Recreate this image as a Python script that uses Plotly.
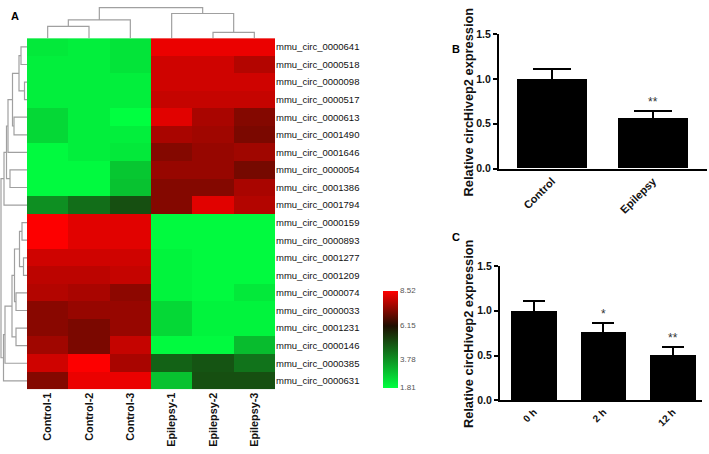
import plotly.graph_objects as go

# ---------------- data ----------------
samples = ["Control-1", "Control-2", "Control-3", "Epilepsy-1", "Epilepsy-2", "Epilepsy-3"]
circ_labels = ["mmu_circ_0000641", "mmu_circ_0000518", "mmu_circ_0000098", "mmu_circ_0000517",
               "mmu_circ_0000613", "mmu_circ_0001490", "mmu_circ_0001646", "mmu_circ_0000054",
               "mmu_circ_0001386", "mmu_circ_0001794", "mmu_circ_0000159", "mmu_circ_0000893",
               "mmu_circ_0001277", "mmu_circ_0001209", "mmu_circ_0000074", "mmu_circ_0000033",
               "mmu_circ_0001231", "mmu_circ_0000146", "mmu_circ_0000385", "mmu_circ_0000631"]
expr = [
    [2.2, 2.1, 2.3, 8.3, 8.3, 8.3],
    [2.1, 2.1, 2.3, 8.0, 8.0, 7.7],
    [2.1, 2.1, 2.1, 8.0, 8.0, 8.0],
    [2.1, 2.1, 2.1, 7.9, 7.9, 7.9],
    [2.5, 2.1, 1.8, 8.2, 7.6, 7.2],
    [2.5, 2.1, 2.1, 7.6, 7.5, 7.1],
    [1.9, 2.1, 2.2, 7.2, 7.4, 7.5],
    [1.9, 1.9, 2.8, 7.4, 7.4, 7.05],
    [1.9, 1.9, 2.9, 7.2, 7.2, 7.6],
    [3.8, 4.4, 4.95, 7.2, 8.2, 7.7],
    [8.5, 8.2, 8.2, 1.9, 1.9, 1.9],
    [8.5, 8.2, 8.2, 1.9, 1.9, 1.9],
    [8.0, 8.0, 8.0, 2.0, 1.9, 1.9],
    [7.8, 7.8, 7.9, 2.0, 1.9, 1.9],
    [7.7, 7.6, 7.3, 2.0, 1.9, 2.2],
    [7.25, 7.4, 7.4, 2.5, 2.0, 2.0],
    [7.25, 7.1, 7.4, 2.5, 2.0, 2.0],
    [7.5, 7.1, 7.9, 1.9, 1.9, 3.0],
    [8.0, 8.5, 7.6, 4.6, 4.85, 4.3],
    [7.2, 8.3, 8.3, 2.9, 4.95, 4.95],
]
cbar_ticks = [1.81, 3.78, 6.15, 8.52]

# dendrogram merges: (child_a, child_b, height); new nodes numbered after leaves
col_merges = [(0, 1, 12), (6, 2, 18.7), (4, 5, 6), (3, 8, 25.3), (7, 9, 31.3)]
row_merges = [(0, 1, 6), (2, 3, 2.5), (20, 21, 8), (4, 5, 13), (22, 23, 14.5), (7, 8, 17),
              (24, 6, 19), (26, 25, 20.5), (27, 9, 23),
              (10, 11, 5), (12, 13, 3.5), (29, 30, 7.5), (14, 15, 11), (31, 32, 12.5),
              (16, 17, 11), (33, 34, 15), (35, 18, 22), (36, 19, 23.5), (28, 37, 26)]

bar_b_cats = ["Control", "Epilepsy"]
bar_b_vals = [1.0, 0.56]
bar_b_err = [0.11, 0.08]
bar_b_stars = ["", "**"]

bar_c_cats = ["0 h", "2 h", "12 h"]
bar_c_vals = [1.0, 0.76, 0.51]
bar_c_err = [0.11, 0.10, 0.08]
bar_c_stars = ["", "*", "**"]

y_title = "Relative circHivep2 expression"

# ---------------- layout helpers ----------------
W, H = 709, 454
def fx(px):
    return px / W
def fy(py):
    return 1 - py / H

FONT = "Arial, Liberation Sans, sans-serif"

def dendro_xy(n_leaves, merges):
    nodes = [(i, 0.0) for i in range(n_leaves)]
    ps, hs = [], []
    for a, b, h in merges:
        pa, ha = nodes[a]
        pb, hb = nodes[b]
        ps += [pa, pa, pb, pb, None]
        hs += [ha, h, h, hb, None]
        nodes.append(((pa + pb) / 2, h))
    return ps, hs

fig = go.Figure()

# ---------------- heatmap ----------------
cscale = [[0.0, "rgb(0,255,64)"], [0.64, "rgb(30,14,0)"], [1.0, "rgb(255,0,0)"]]
fig.add_trace(go.Heatmap(
    z=expr, x=list(range(len(samples))), y=list(range(len(circ_labels))),
    colorscale=cscale, zmin=cbar_ticks[0], zmax=cbar_ticks[-1],
    xaxis="x", yaxis="y",
    colorbar=dict(x=fx(383), xanchor="left", xpad=0, ypad=0,
                  y=fy(392), yanchor="bottom", len=100 / H, lenmode="fraction",
                  thickness=15, thicknessmode="pixels", outlinewidth=0,
                  tickvals=cbar_ticks, ticktext=[f"{v:.2f}" for v in cbar_ticks],
                  ticks="", tickfont=dict(family=FONT, size=8, color="#555555")),
))

# top dendrogram
cx, ch = dendro_xy(len(samples), col_merges)
fig.add_trace(go.Scatter(x=cx, y=ch, mode="lines", line=dict(color="#a0a0a0", width=1.2),
                         xaxis="x2", yaxis="y2", hoverinfo="skip", showlegend=False))
# left dendrogram
rp, rh = dendro_xy(len(circ_labels), row_merges)
fig.add_trace(go.Scatter(x=rh, y=rp, mode="lines", line=dict(color="#a0a0a0", width=1.2),
                         xaxis="x3", yaxis="y3", hoverinfo="skip", showlegend=False))

# ---------------- bar chart B ----------------
fig.add_trace(go.Bar(x=list(range(len(bar_b_cats))), y=bar_b_vals, width=0.69,
                     marker=dict(color="black", line=dict(width=0)),
                     error_y=dict(type="data", array=bar_b_err, color="black", thickness=2, width=19),
                     xaxis="x4", yaxis="y4", showlegend=False))
# ---------------- bar chart C ----------------
fig.add_trace(go.Bar(x=list(range(len(bar_c_cats))), y=bar_c_vals, width=0.66,
                     marker=dict(color="black", line=dict(width=0)),
                     error_y=dict(type="data", array=bar_c_err, color="black", thickness=2, width=11),
                     xaxis="x5", yaxis="y5", showlegend=False))

annotations = []
for i, s in enumerate(bar_b_stars):
    if s:
        annotations.append(dict(x=i, y=bar_b_vals[i] + bar_b_err[i], xref="x4", yref="y4", text=s,
                                showarrow=False, yanchor="bottom", yshift=0,
                                font=dict(family=FONT, size=12, color="#333333")))
for i, s in enumerate(bar_c_stars):
    if s:
        annotations.append(dict(x=i, y=bar_c_vals[i] + bar_c_err[i], xref="x5", yref="y5", text=s,
                                showarrow=False, yanchor="bottom", yshift=0,
                                font=dict(family=FONT, size=12, color="#333333")))
# y titles
annotations.append(dict(x=fx(468), y=fy(99), xref="paper", yref="paper", text=f"<b>{y_title}</b>",
                        textangle=-90, showarrow=False, xanchor="center", yanchor="middle",
                        font=dict(family=FONT, size=12.8, color="#111111")))
annotations.append(dict(x=fx(468), y=fy(337), xref="paper", yref="paper", text=f"<b>{y_title}</b>",
                        textangle=-90, showarrow=False, xanchor="center", yanchor="middle",
                        font=dict(family=FONT, size=12.8, color="#111111")))
# panel letters
for letter, px, py in [("A", 15, 10), ("B", 456, 44), ("C", 456, 237)]:
    annotations.append(dict(x=fx(px), y=fy(py), xref="paper", yref="paper", text=f"<b>{letter}</b>",
                            showarrow=False, xanchor="center", yanchor="middle",
                            font=dict(family=FONT, size=11, color="black")))

bar_axis = dict(showline=True, linewidth=2, linecolor="black", showgrid=False, zeroline=False)
ytick_font = dict(family=FONT, size=10.5, color="#111111")
xtick_font = dict(family=FONT, size=11, color="#111111")

fig.update_layout(
    width=W, height=H, margin=dict(l=0, r=0, t=0, b=0),
    paper_bgcolor="white", plot_bgcolor="white", showlegend=False,
    bargap=0,
    annotations=annotations,
    # heatmap
    xaxis=dict(domain=[fx(27), fx(275)], range=[-0.5, 5.5], tickvals=list(range(len(samples))),
               ticktext=[f"<b>{s}</b>" for s in samples], tickangle=-90, ticks="",
               showgrid=False, zeroline=False, showline=False, anchor="y",
               tickfont=dict(family=FONT, size=10.8, color="#111111")),
    yaxis=dict(domain=[fy(394), fy(33)], range=[19.5, -0.5], tickvals=list(range(len(circ_labels))),
               ticktext=circ_labels, side="right", ticks="", showgrid=False, zeroline=False,
               showline=False, anchor="x", tickfont=dict(family=FONT, size=9.5, color="#111111")),
    # top dendrogram
    xaxis2=dict(domain=[fx(27), fx(275)], range=[-0.5, 5.5], visible=False, anchor="y2"),
    yaxis2=dict(domain=[fy(33), 1], range=[0, 33], visible=False, anchor="x2"),
    # left dendrogram
    xaxis3=dict(domain=[0, fx(27)], range=[27, 0], visible=False, anchor="y3"),
    yaxis3=dict(domain=[fy(394), fy(33)], range=[19.5, -0.5], visible=False, anchor="x3"),
    # bar B
    xaxis4=dict(domain=[fx(499), fx(707)], range=[-0.525, 1.535], tickvals=[0, 1],
                ticktext=[f"<b>{c}</b>" for c in bar_b_cats], tickangle=-45, ticks="",
                anchor="y4", tickfont=xtick_font, **bar_axis),
    yaxis4=dict(domain=[fy(167), fy(29)], range=[0, 1.5], tickvals=[0, 0.5, 1.0, 1.5],
                ticktext=["<b>0.0</b>", "<b>0.5</b>", "<b>1.0</b>", "<b>1.5</b>"],
                ticks="outside", ticklen=4, tickwidth=2, tickcolor="black", anchor="x4",
                tickfont=ytick_font, **bar_axis),
    # bar C
    xaxis5=dict(domain=[fx(500), fx(702)], range=[-0.49, 2.42], tickvals=[0, 1, 2],
                ticktext=[f"<b>{c}</b>" for c in bar_c_cats], tickangle=-45, ticks="",
                anchor="y5", tickfont=dict(family=FONT, size=10, color="#111111"), **bar_axis),
    yaxis5=dict(domain=[fy(405), fy(267)], range=[0, 1.5], tickvals=[0, 0.5, 1.0, 1.5],
                ticktext=["<b>0.0</b>", "<b>0.5</b>", "<b>1.0</b>", "<b>1.5</b>"],
                ticks="outside", ticklen=4, tickwidth=2, tickcolor="black", anchor="x5",
                tickfont=ytick_font, **bar_axis),
)

fig.write_html("out.html", config={"displayModeBar": False},
               post_script="document.body.style.margin='0px';")
